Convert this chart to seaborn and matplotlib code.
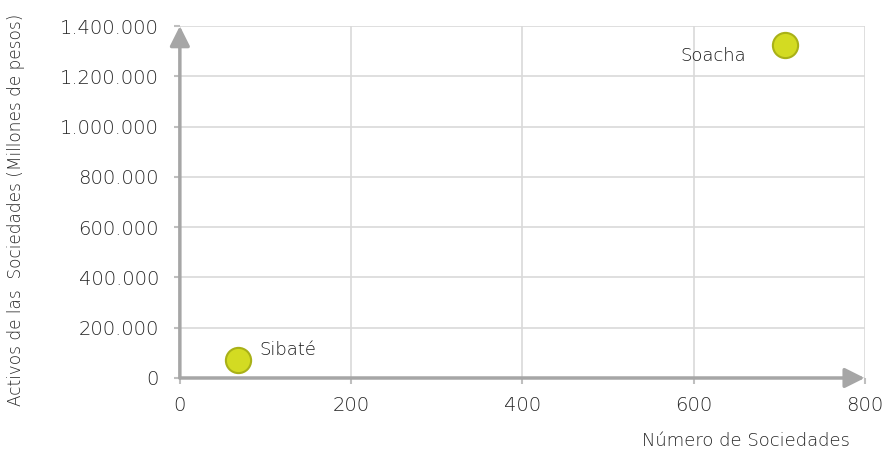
import matplotlib
matplotlib.use("Agg")
import matplotlib.pyplot as plt
import seaborn as sns
import pandas as pd
from matplotlib.ticker import FuncFormatter

municipios = ["Sibaté", "Soacha"]
num_sociedades = [68, 707]
activos = [71000, 1324000]

df = pd.DataFrame({"municipio": municipios, "n": num_sociedades, "activos": activos})

sns.set_theme(style="white")
plt.rcParams['font.family'] = ['DejaVu Sans']
plt.rcParams['font.weight'] = 200

fig = plt.figure(figsize=(8.86, 4.63), dpi=100)
ax = fig.add_axes([0.203, 0.1836, 0.773, 0.7602])

sns.scatterplot(data=df, x="n", y="activos", ax=ax, s=330, color="#D3DB22",
                edgecolor="#A9B118", linewidth=1.5, zorder=5, legend=False)

ax.set_xlim(0, 800)
ax.set_ylim(0, 1400000)
ax.set_xticks([0, 200, 400, 600, 800])
ax.set_yticks(range(0, 1400001, 200000))
ax.yaxis.set_major_formatter(FuncFormatter(lambda v, p: f"{int(v):,}".replace(",", ".")))
ax.grid(True, color="#D9D9D9", linewidth=1.2)
ax.set_axisbelow(True)
for side in ["top", "right", "left", "bottom"]:
    ax.spines[side].set_visible(False)

ax.tick_params(axis="both", colors="#BFBFBF", labelcolor="#262626", labelsize=14,
               length=4, width=1.5, direction="out", bottom=True, left=True)
ax.tick_params(axis="x", pad=9)
ax.tick_params(axis="y", pad=11)

arrow_kw = dict(arrowstyle="-|>,head_length=1.0,head_width=0.5", color="#A6A6A6", lw=2.5,
                shrinkA=0, shrinkB=0)
ax.annotate("", xy=(1.0, 0), xytext=(0, 0), xycoords="axes fraction",
            textcoords="axes fraction", arrowprops=arrow_kw, annotation_clip=False, zorder=6)
ax.annotate("", xy=(0, 1.0), xytext=(0, 0), xycoords="axes fraction",
            textcoords="axes fraction", arrowprops=arrow_kw, annotation_clip=False, zorder=6)

offsets = {"Sibaté": (15, 7, "left"), "Soacha": (-28, -8, "right")}
for m, x, y in zip(municipios, num_sociedades, activos):
    dx, dy, ha = offsets[m]
    ax.annotate(m, (x, y), xytext=(dx, dy), textcoords="offset points", ha=ha,
                va="center", fontsize=13, color="#1a1a1a")

ax.set_xlabel("")
ax.set_ylabel("")
fig.text(0.842, 0.028, "Número de Sociedades", ha="center", va="bottom",
         fontsize=13, color="#262626")
fig.text(0.018, 0.546, "Activos de las  Sociedades (Millones de pesos)", ha="center",
         va="center", rotation=90, fontsize=12.2, color="#262626")

fig.savefig("out.png", dpi=100)
